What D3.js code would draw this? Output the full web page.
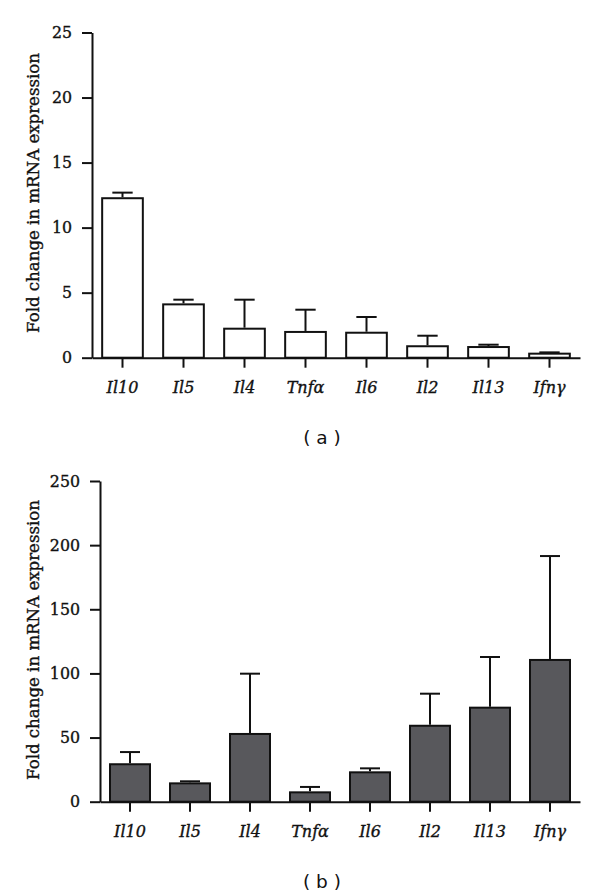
<!DOCTYPE html>
<html>
<head>
<meta charset="utf-8">
<script src="https://cdn.jsdelivr.net/npm/d3@7/dist/d3.min.js"></script>
<style>
  body { margin: 0; background: #fff; }
  svg { display: block; }
</style>
</head>
<body>
<svg id="chart" width="600" height="895"></svg>
<script>
const categories = ["Il10", "Il5", "Il4", "Tnfα", "Il6", "Il2", "Il13", "Ifnγ"];
const valuesA = [12.26, 4.1, 2.23, 1.98, 1.92, 0.88, 0.82, 0.31];
const errorTopA = [12.69, 4.46, 4.46, 3.69, 3.13, 1.69, 1.0, 0.41];
const ticksA = [0, 5, 10, 15, 20, 25];
const valuesB = [29.2, 14.3, 52.8, 7.3, 22.9, 59.2, 73.3, 110.5];
const errorTopB = [38.7, 15.9, 99.8, 11.5, 26.0, 84.2, 112.8, 191.5];
const ticksB = [0, 50, 100, 150, 200, 250];
const yLabel = "Fold change in mRNA expression";

const svg = d3.select("#chart");
const ink = "#111";

function heavy(sel) {
  return sel.attr("stroke", ink).attr("stroke-width", 0.35);
}

function panel(opts) {
  const g = svg.append("g");
  const x = d3.scaleBand().domain(categories)
    .range([opts.x0, opts.x1]).paddingInner(1/3).paddingOuter(1/6);
  const y = d3.scaleLinear().domain([0, opts.max]).range([opts.yBottom, opts.yTop]);

  // bars
  g.selectAll("rect.bar").data(opts.values).join("rect")
    .attr("class", "bar")
    .attr("x", (d, i) => x(categories[i]))
    .attr("width", x.bandwidth())
    .attr("y", d => y(d))
    .attr("height", d => y(0) - y(d))
    .attr("fill", opts.fill)
    .attr("stroke", ink)
    .attr("stroke-width", 2);

  // error bars
  const eb = g.selectAll("g.err").data(opts.errors).join("g").attr("class", "err");
  eb.append("line")
    .attr("x1", (d, i) => x(categories[i]) + x.bandwidth() / 2)
    .attr("x2", (d, i) => x(categories[i]) + x.bandwidth() / 2)
    .attr("y1", (d, i) => y(opts.values[i]) - 1)
    .attr("y2", d => y(d))
    .attr("stroke", ink).attr("stroke-width", 2);
  eb.append("line")
    .attr("x1", (d, i) => x(categories[i]) + x.bandwidth() / 4)
    .attr("x2", (d, i) => x(categories[i]) + 3 * x.bandwidth() / 4)
    .attr("y1", d => y(d))
    .attr("y2", d => y(d))
    .attr("stroke", ink).attr("stroke-width", 2);

  // y axis
  const ya = g.append("g").attr("transform", `translate(${opts.x0},0)`)
    .call(d3.axisLeft(y).tickValues(opts.ticks).tickSize(10).tickSizeOuter(0).tickPadding(10));
  ya.select(".domain").attr("stroke", ink).attr("stroke-width", 2);
  ya.selectAll(".tick line").attr("stroke", ink).attr("stroke-width", 2);
  heavy(ya.selectAll(".tick text")
    .attr("font-family", "'DejaVu Serif', serif")
    .attr("font-size", 15.8)
    .attr("fill", ink));

  // x axis
  const xa = g.append("g").attr("transform", `translate(0,${opts.yBottom})`)
    .call(d3.axisBottom(x).tickSize(10).tickSizeOuter(0).tickPadding(14));
  xa.select(".domain").attr("stroke", ink).attr("stroke-width", 2);
  xa.selectAll(".tick line").attr("stroke", ink).attr("stroke-width", 2);
  heavy(xa.selectAll(".tick text")
    .attr("font-family", "'DejaVu Serif', serif")
    .attr("font-style", "italic")
    .attr("font-size", 16)
    .attr("fill", ink));

  // y label
  heavy(g.append("text")
    .attr("transform", `translate(${opts.labelX},${opts.labelY}) rotate(-90)`)
    .attr("text-anchor", "middle")
    .attr("font-family", "'DejaVu Serif', serif")
    .attr("font-size", 16.6)
    .attr("fill", ink)
    .text(yLabel));

  // panel letter
  g.append("text")
    .attr("x", opts.letterX).attr("y", opts.letterY)
    .attr("text-anchor", "middle")
    .attr("font-family", "'DejaVu Sans', sans-serif")
    .attr("font-size", 18.5)
    .attr("fill", ink)
    .text(opts.letter);
}

panel({
  values: valuesA, errors: errorTopA, ticks: ticksA, max: 25,
  x0: 92, x1: 580, yTop: 32.5, yBottom: 357.7,
  fill: "#ffffff",
  labelX: 39, labelY: 193,
  letter: "( a )", letterX: 322, letterY: 444
});

panel({
  values: valuesB, errors: errorTopB, ticks: ticksB, max: 250,
  x0: 100, x1: 580, yTop: 481, yBottom: 801.7,
  fill: "#58585c",
  labelX: 39, labelY: 640,
  letter: "( b )", letterX: 322, letterY: 888
});
</script>
</body>
</html>
